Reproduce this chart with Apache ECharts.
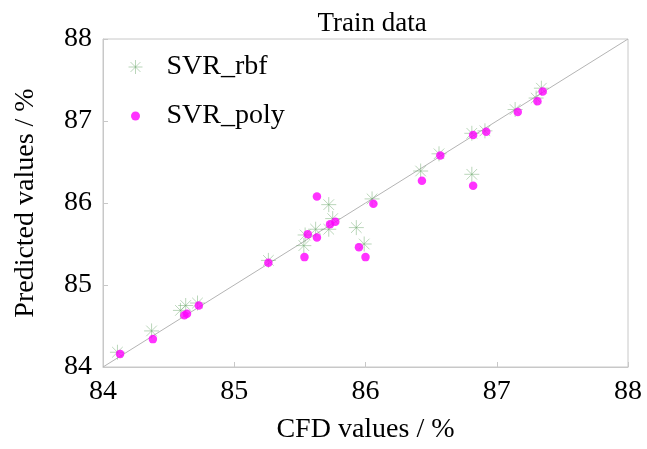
<!DOCTYPE html>
<html>
<head>
<meta charset="utf-8">
<script src="https://cdn.jsdelivr.net/npm/echarts@6/dist/echarts.min.js"></script>
<style>html,body{margin:0;padding:0;background:#fff;}#chart{width:647px;height:449px;}</style>
</head>
<body>
<div id="chart"></div>
<script>
var titleText = 'Train data';
var xName = 'CFD values / %';
var yName = 'Predicted values / %';
var seriesNames = ['SVR_rbf', 'SVR_poly'];
var axisTicks = [84, 85, 86, 87, 88];
var cfdRbf  = [84.11, 84.37, 84.59, 84.63, 84.72, 85.26, 85.53, 85.54, 85.62, 85.72, 85.72, 85.75, 85.93, 85.99, 86.05, 86.42, 86.56, 86.81, 86.81, 86.91, 87.14, 87.30, 87.34];
var predRbf = [84.18, 84.44, 84.69, 84.75, 84.78, 85.30, 85.48, 85.61, 85.68, 85.68, 85.98, 85.81, 85.70, 85.50, 86.05, 86.39, 86.60, 86.35, 86.85, 86.88, 87.14, 87.28, 87.40];
var cfdPoly  = [84.13, 84.38, 84.62, 84.64, 84.73, 85.26, 85.535, 85.56, 85.63, 85.63, 85.73, 85.77, 85.95, 86.00, 86.06, 86.43, 86.57, 86.82, 86.82, 86.92, 87.16, 87.31, 87.35];
var predPoly = [84.16, 84.34, 84.63, 84.65, 84.75, 85.27, 85.34, 85.62, 86.08, 85.58, 85.74, 85.77, 85.46, 85.34, 85.99, 86.27, 86.58, 86.21, 86.83, 86.87, 87.11, 87.24, 87.36];
var diagonal = [[84, 84], [88, 88]];

function pairs(xs, ys) { return xs.map(function (x, i) { return [x, ys[i]]; }); }

var starPath = 'path://M0,10L20,10M10,0L10,20M2.93,2.93L17.07,17.07M17.07,2.93L2.93,17.07';
var smallDotPath = 'path://M0,0M14,14M7,11.5A4.5,4.5,0,1,1,7.001,11.5Z';
var font = 'Liberation Serif';
var axisColor = '#c8c8c8';
var starColor = 'rgba(110,170,110,0.6)';

var chart = echarts.init(document.getElementById('chart'));
chart.setOption({
  animation: false,
  backgroundColor: '#fff',
  title: {
    text: titleText, left: 367, top: 5, textAlign: 'center',
    textStyle: { fontFamily: font, fontSize: 27, fontWeight: 'normal', color: '#000' }
  },
  legend: {
    orient: 'vertical', left: 121, top: 48, itemGap: 21, itemWidth: 14, itemHeight: 14,
    textStyle: { fontFamily: font, fontSize: 28, color: '#000', padding: [0, 0, 0, 19] },
    data: [
      { name: seriesNames[0], icon: starPath, itemStyle: { color: 'none', borderColor: starColor, borderWidth: 1 } },
      { name: seriesNames[1], icon: smallDotPath, itemStyle: { color: '#ff00ff' } }
    ]
  },
  grid: { left: 103, right: 19, top: 39, bottom: 80, show: true, borderColor: axisColor, borderWidth: 1 },
  xAxis: {
    type: 'value', min: axisTicks[0], max: axisTicks[axisTicks.length - 1], interval: 1,
    name: xName, nameLocation: 'middle', nameGap: 49,
    nameTextStyle: { fontFamily: font, fontSize: 28, color: '#000' },
    axisLine: { show: true, lineStyle: { color: axisColor } },
    axisTick: { show: true, inside: true, length: 5, lineStyle: { color: axisColor } },
    axisLabel: { fontFamily: font, fontSize: 28, color: '#000', margin: 11 },
    splitLine: { show: false }
  },
  yAxis: {
    type: 'value', min: axisTicks[0], max: axisTicks[axisTicks.length - 1], interval: 1,
    name: yName, nameLocation: 'middle', nameGap: 63,
    nameTextStyle: { fontFamily: font, fontSize: 28, color: '#000' },
    axisLine: { show: true, lineStyle: { color: axisColor } },
    axisTick: { show: true, inside: true, length: 5, lineStyle: { color: axisColor } },
    axisLabel: { fontFamily: font, fontSize: 28, color: '#000', margin: 11 },
    splitLine: { show: false }
  },
  series: [
    {
      type: 'line', data: diagonal, symbol: 'none', silent: true,
      lineStyle: { color: '#b4b4b4', width: 1 }, z: 1
    },
    {
      name: seriesNames[0], type: 'scatter', data: pairs(cfdRbf, predRbf),
      symbol: starPath, symbolSize: 15,
      itemStyle: { color: 'none', borderColor: starColor, borderWidth: 1 }, z: 2
    },
    {
      name: seriesNames[1], type: 'scatter', data: pairs(cfdPoly, predPoly),
      symbol: 'circle', symbolSize: 8.5,
      itemStyle: { color: '#ff00ff' }, z: 3
    }
  ]
});
</script>
</body>
</html>
